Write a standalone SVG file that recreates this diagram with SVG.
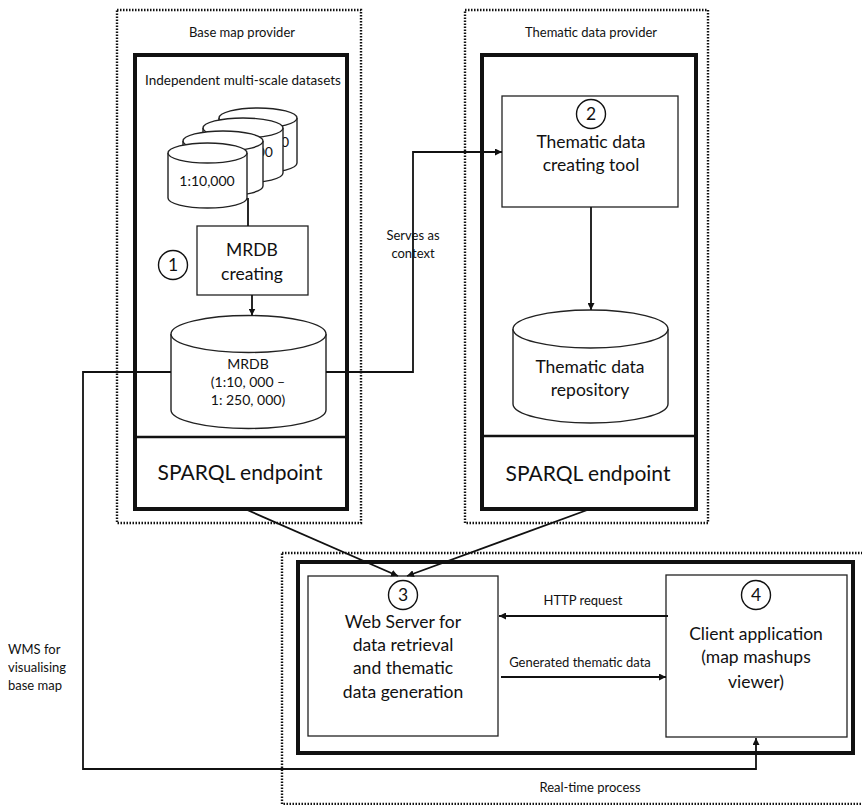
<svg xmlns="http://www.w3.org/2000/svg" width="862" height="805" viewBox="0 0 862 805">
<defs>
<style>
text{font-family:"Lato","Liberation Sans",sans-serif;fill:#111}
.dot{fill:none;stroke:#111;stroke-width:2.4;stroke-dasharray:1.5 1.5}
.thick{fill:none;stroke:#111;stroke-width:4}
.box{fill:#fff;stroke:#222;stroke-width:1.3}
.cyl{fill:#fff;stroke:#222;stroke-width:1.4}
.ln{fill:none;stroke:#111;stroke-width:1.8}
.ar{fill:none;stroke:#111;stroke-width:1.8;marker-end:url(#ah)}
.c{text-anchor:middle}
.e{text-anchor:end}
.s13{font-size:13px}
.s135{font-size:13.5px}
.s14{font-size:14px}
.s17{font-size:17.5px}
.s21{font-size:21px}
</style>
<marker id="ah" viewBox="0 0 10 10" refX="10" refY="5" markerWidth="7" markerHeight="7" markerUnits="userSpaceOnUse" orient="auto">
<path d="M0,0 L10,5 L0,10 z" fill="#111"/>
</marker>
</defs>
<rect width="862" height="805" fill="#fff"/>

<g id="base-map-provider">
<rect class="dot" x="117" y="10" width="244" height="513"/>
<text class="c s13" x="242" y="37">Base map provider</text>
<rect class="thick" x="135" y="55" width="212" height="454"/>
<line class="thick" x1="135" y1="437" x2="347" y2="437" style="stroke-width:2.5"/>
<text class="c s135" x="243" y="85">Independent multi-scale datasets</text>
</g>

<g id="datasets">
<g>
<path class="cyl" d="M219,118 A39,10 0 0 1 297,118 L297,163 A39,10 0 0 1 219,163 Z"/>
<path class="cyl" d="M219,118 A39,10 0 0 0 297,118"/>
<text class="e s14" x="289" y="147">0</text>
</g>
<g>
<path class="cyl" d="M203,128 A40,10 0 0 1 283,128 L283,173 A40,10 0 0 1 203,173 Z"/>
<path class="cyl" d="M203,128 A40,10 0 0 0 283,128"/>
<text class="e s14" x="273" y="157">00</text>
</g>
<g>
<path class="cyl" d="M183,141 A40,10 0 0 1 263,141 L263,186 A40,10 0 0 1 183,186 Z"/>
<path class="cyl" d="M183,141 A40,10 0 0 0 263,141"/>
</g>
<g>
<path class="cyl" d="M168,153 A39.5,10 0 0 1 247,153 L247,198 A39.5,10 0 0 1 168,198 Z"/>
<path class="cyl" d="M168,153 A39.5,10 0 0 0 247,153"/>
<text class="c s14" x="207" y="186">1:10,000</text>
</g>
</g>

<g id="mrdb-creating">
<rect class="box" x="197" y="226" width="111" height="69"/>
<text class="c s17" x="252" y="256">MRDB</text>
<text class="c s17" x="252" y="280">creating</text>
<circle cx="173" cy="265" r="14.5" fill="#fff" stroke="#111" stroke-width="1.4"/>
<text class="c s17" x="173" y="271">1</text>
</g>

<g id="mrdb">
<path class="cyl" d="M171,334 A77.5,18.5 0 0 1 326,334 L326,410 A77.5,18.5 0 0 1 171,410 Z"/>
<path class="cyl" d="M171,334 A77.5,18.5 0 0 0 326,334"/>
<text class="c s14" x="248" y="369">MRDB</text>
<text class="c s14" x="248" y="387">(1:10, 000 –</text>
<text class="c s14" x="248" y="405">1: 250, 000)</text>
</g>

<g id="base-sparql">
<text class="c s21" x="240" y="480">SPARQL endpoint</text>
</g>

<g id="thematic-data-provider">
<rect class="dot" x="465" y="10" width="243" height="513"/>
<text class="c s13" x="591" y="37">Thematic data provider</text>
<rect class="thick" x="482" y="55" width="214" height="454"/>
<line class="thick" x1="482" y1="436" x2="696" y2="436" style="stroke-width:2.5"/>
</g>

<g id="thematic-tool">
<rect class="box" x="502" y="96" width="176" height="111"/>
<circle cx="591" cy="114" r="14.5" fill="#fff" stroke="#111" stroke-width="1.4"/>
<text class="c s17" x="591" y="120">2</text>
<text class="c s17" x="591" y="148">Thematic data</text>
<text class="c s17" x="591" y="171">creating tool</text>
</g>

<g id="thematic-repository">
<path class="cyl" d="M513,329 A77.5,19 0 0 1 668,329 L668,404 A77.5,19 0 0 1 513,404 Z"/>
<path class="cyl" d="M513,329 A77.5,19 0 0 0 668,329"/>
<text class="c s17" x="590" y="373">Thematic data</text>
<text class="c s17" x="590" y="396">repository</text>
</g>

<g id="thematic-sparql">
<text class="c s21" x="588" y="481">SPARQL endpoint</text>
</g>

<g id="real-time-process">
<rect class="dot" x="282" y="553" width="590" height="251"/>
<rect class="thick" x="298" y="562" width="555" height="191"/>
<text class="c s13" x="590" y="792">Real-time process</text>
</g>

<g id="web-server">
<rect class="box" x="308" y="576" width="190" height="160"/>
<circle cx="403" cy="595" r="14.5" fill="#fff" stroke="#111" stroke-width="1.4"/>
<text class="c s17" x="403" y="601">3</text>
<text class="c s17" x="403" y="628">Web Server for</text>
<text class="c s17" x="403" y="651">data retrieval</text>
<text class="c s17" x="403" y="674">and thematic</text>
<text class="c s17" x="403" y="698">data generation</text>
</g>

<g id="client-application">
<rect class="box" x="666" y="575" width="181" height="162"/>
<circle cx="756" cy="595" r="14.5" fill="#fff" stroke="#111" stroke-width="1.4"/>
<text class="c s17" x="756" y="601">4</text>
<text class="c s17" x="756" y="640">Client application</text>
<text class="c s17" x="756" y="663">(map mashups</text>
<text class="c s17" x="756" y="688">viewer)</text>
</g>

<g id="connectors">
<line class="ln" x1="248" y1="198" x2="248" y2="226"/>
<line class="ar" x1="252" y1="295" x2="252" y2="315.5"/>
<polyline class="ar" points="326,372 413,372 413,152 502,152"/>
<line class="ar" x1="591" y1="207" x2="591" y2="310"/>
<line class="ar" x1="245" y1="509" x2="398" y2="576"/>
<line class="ar" x1="590" y1="509" x2="407" y2="576"/>
<line class="ar" x1="668" y1="616" x2="499" y2="616"/>
<line class="ar" x1="501" y1="677" x2="666" y2="677"/>
<polyline class="ar" points="171,372 83,372 83,769 756,769 756,738"/>
<text class="c s13" x="413" y="240">Serves as</text>
<text class="c s13" x="413" y="258">context</text>
<text class="c s13" x="583" y="605">HTTP request</text>
<text class="c s13" x="580" y="667">Generated thematic data</text>
<text class="s13" x="8" y="654">WMS for</text>
<text class="s13" x="8" y="672">visualising</text>
<text class="s13" x="8" y="690">base map</text>
</g>
</svg>
